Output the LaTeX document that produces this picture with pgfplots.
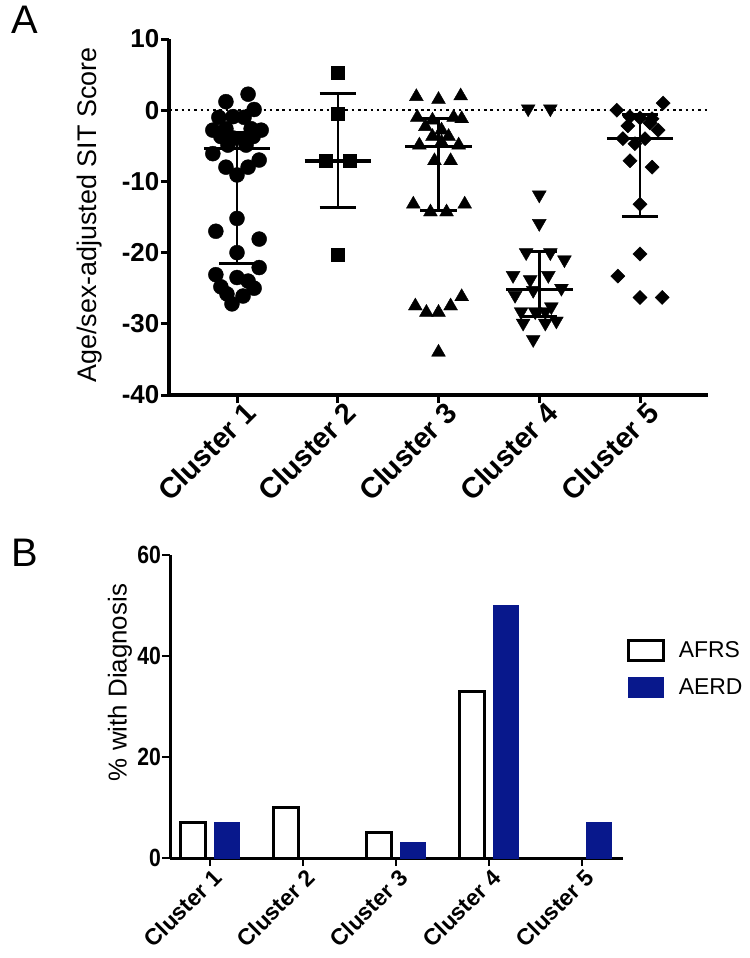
\documentclass[border=0pt]{standalone}
\usepackage{fontspec}
\setmainfont{Liberation Sans}
\newfontfamily\narrow[FakeStretch=0.85]{Liberation Sans}
\usepackage{pgfplots}
\pgfplotsset{compat=1.18}
\definecolor{aerd}{RGB}{8,24,140}
\begin{document}
\begin{tikzpicture}
\path[use as bounding box] (0,0) rectangle (750bp,-958bp);
\node[font=\fontsize{40}{40}\selectfont] at (25bp,-20bp) {A};
\node[font=\fontsize{40}{40}\selectfont] at (25bp,-553bp) {B};
\begin{axis}[
  at={(169bp,-395bp)}, anchor=south west,
  scale only axis, width=539bp, height=356bp,
  xmin=0.325, xmax=5.675, ymin=-40, ymax=10,
  axis x line=bottom, axis y line=left,
  axis line style={line width=3.5bp, -},
  ytick={-40,-30,-20,-10,0,10},
  xtick={1,2,3,4,5},
  xticklabels={Cluster 1,Cluster 2,Cluster 3,Cluster 4,Cluster 5},
  tick style={line width=3bp, black},
  major tick length=8bp,
  xtick align=outside, ytick align=outside,
  /pgf/number format/assume math mode=true,
  yticklabel style={font=\bfseries\fontsize{26}{26}\selectfont, inner sep=1.5bp},
  xticklabel style={font=\bfseries\fontsize{29}{29}\selectfont, rotate=45, anchor=north east, inner sep=2bp, xshift=8bp},
  ylabel={Age/sex-adjusted SIT Score},
  ylabel style={font=\fontsize{27}{27}\selectfont, at={(rel axis cs:0,0.5)}, anchor=center, yshift=79bp, xshift=2bp},
  unbounded coords=jump,
  clip=false,
]
\addplot[black, line width=2.5bp, dash pattern=on 2.5bp off 3.8bp] coordinates {(0.325,0) (5.675,0)};
% Cluster 1
\addplot[only marks, mark=*, mark size=7.5bp, black] coordinates {
(1.11,2.25)(0.89,1.2)(1.17,0.1)(0.82,-1.0)(0.96,-0.9)(1.07,-1.0)(0.76,-2.8)(0.89,-2.6)(1.14,-2.6)(1.24,-2.8)(0.84,-3.7)(0.96,-3.9)(1.06,-4.0)(1.16,-3.7)(0.91,-4.9)(1.09,-4.9)(0.76,-6.1)(1.22,-7.0)(0.89,-8.0)(1.11,-8.0)(1.0,-9.1)(1.0,-15.2)(0.79,-17.0)(1.22,-18.1)(1.0,-20.0)(1.22,-22.1)(0.79,-23.1)(1.0,-23.5)(0.84,-24.8)(1.11,-24.0)(1.17,-25.0)(0.90,-25.8)(1.06,-26.1)(0.95,-27.2)};
% Cluster 2
\addplot[only marks, mark=square*, mark size=6.5bp, black] coordinates {
(2,5.2)(2,-0.5)(1.88,-7.1)(2.12,-7.1)(2,-20.3)};
% Cluster 3
\addplot[only marks, mark=triangle*, mark size=8bp, black] coordinates {
(2.78,1.9)(3,1.5)(3.22,2.0)(2.79,-1.0)(2.94,-1.4)(3.15,-1.0)(3.23,-1.2)(2.87,-2.3)(3.03,-2.8)(2.94,-3.7)(3.10,-3.7)(2.81,-4.9)(3.2,-4.9)(3.03,-4.5)(2.96,-7.1)(3.12,-7.1)(2.75,-13.2)(2.92,-14.3)(3.08,-14.3)(3.26,-13.2)(2.77,-27.5)(2.88,-28.4)(3.0,-28.4)(3.12,-27.5)(3.23,-26.2)(3.0,-34)};
% Cluster 4
\addplot[only marks, mark=triangle*, mark size=8bp, mark options={rotate=180}, black] coordinates {
(3.89,0.2)(4.11,0.2)(4,-11.9)(4,-15.9)(3.87,-20.0)(4.11,-20.0)(4.25,-21.0)(3.74,-23.2)(3.91,-23.8)(4.09,-23.2)(3.76,-26.0)(4.22,-25.0)(3.94,-25.3)(3.82,-28.3)(3.96,-28.3)(4.06,-28.3)(4.12,-27.6)(3.84,-29.9)(4.06,-29.9)(4.17,-29.6)(3.94,-32.2)};
% Cluster 5
\addplot[only marks, mark=square*, mark size=5bp, mark options={rotate=45}, black] coordinates {
(5.23,1.0)(4.77,0)(4.90,-0.9)(5,-1.1)(5.12,-1.2)(4.88,-2.2)(5.10,-1.8)(5.18,-2.8)(4.83,-4.0)(4.95,-4.7)(5.05,-4.0)(4.90,-7.1)(5.12,-8.0)(5,-13.2)(5,-20.2)(4.78,-23.3)(5,-26.3)(5.22,-26.3)};
% medians
\addplot[black, line width=3.5bp] coordinates {
(0.67,-5.4)(1.33,-5.4)(1,nan)(1.67,-7.1)(2.33,-7.1)(2,nan)(2.67,-5.1)(3.33,-5.1)(3,nan)(3.67,-25.2)(4.33,-25.2)(4,nan)(4.67,-4.0)(5.33,-4.0)};
% IQR vertical
\addplot[black, line width=2.5bp] coordinates {
(1,-3.1)(1,-21.6)(1,nan)(2,2.3)(2,-13.6)(2,nan)(3,-1.2)(3,-14.1)(3,nan)(4,-19.8)(4,-29.0)(4,nan)(5,-0.6)(5,-14.9)};
% caps
\addplot[black, line width=3bp] coordinates {
(0.82,-3.1)(1.18,-3.1)(1,nan)(0.82,-21.6)(1.18,-21.6)(1,nan)
(1.82,2.3)(2.18,2.3)(2,nan)(1.82,-13.6)(2.18,-13.6)(2,nan)
(2.82,-1.2)(3.18,-1.2)(3,nan)(2.82,-14.1)(3.18,-14.1)(3,nan)
(3.82,-19.8)(4.18,-19.8)(4,nan)(3.82,-29.0)(4.18,-29.0)(4,nan)
(4.82,-0.6)(5.18,-0.6)(5,nan)(4.82,-14.9)(5.18,-14.9)};
\end{axis}

\begin{axis}[
  at={(170bp,-858bp)}, anchor=south west,
  scale only axis, width=453bp, height=303bp,
  xmin=0.57, xmax=5.44, ymin=0, ymax=60,
  axis x line=bottom, axis y line=left,
  axis line style={line width=3bp, -},
  ytick={0,20,40,60},
  xtick={1,2,3,4,5},
  xticklabels={Cluster 1,Cluster 2,Cluster 3,Cluster 4,Cluster 5},
  tick style={line width=2.5bp, black},
  major tick length=8bp,
  xtick align=outside, ytick align=outside,
  /pgf/number format/assume math mode=true,
  yticklabel style={font=\narrow\bfseries\fontsize{25}{25}\selectfont, inner sep=1bp},
  xticklabel style={font=\bfseries\fontsize{23}{23}\selectfont, rotate=45, anchor=north east, inner sep=2bp, xshift=2bp},
  ylabel={\% with Diagnosis},
  ylabel style={font=\fontsize{26}{26}\selectfont, at={(rel axis cs:0,0.5)}, anchor=center, yshift=50bp, xshift=24bp},
  legend image code/.code={\draw[#1] (0bp,-10bp) rectangle (35bp,10bp);},
  legend style={draw=none, fill=none, at={(rel axis cs:1.008,0.725)}, anchor=north west, font=\fontsize{23}{23}\selectfont, row sep=15bp, inner sep=0pt, nodes={inner sep=2bp}, /tikz/every odd column/.append style={column sep=12bp}},
  legend cell align=left,
  clip=false,
]
\addplot[ybar, forget plot, bar width=0.27, bar shift=-0.18, fill=white, draw=black, line width=3bp] coordinates {(1,7)(2,10)(3,5)(4,33)};
\addplot[ybar, forget plot, bar width=0.27, bar shift=0.18, fill=aerd, draw=aerd, line width=0.8bp] coordinates {(1,7)(3,3)(4,50)(5,7)};
\addlegendimage{fill=white, draw=black, line width=3bp}
\addlegendentry{AFRS}
\addlegendimage{fill=aerd, draw=aerd}
\addlegendentry{AERD}
\end{axis}
\end{tikzpicture}
\end{document}
